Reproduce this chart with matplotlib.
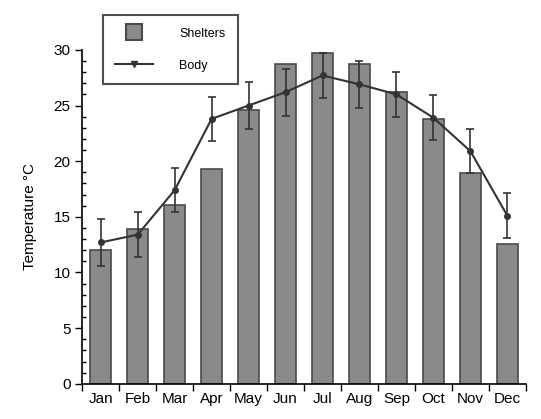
import numpy as np
import matplotlib.pyplot as plt
from matplotlib.lines import Line2D
from matplotlib.ticker import MultipleLocator

plt.rcParams['font.family'] = ['Liberation Sans', 'DejaVu Sans']

# 数据
months = ['Jan', 'Feb', 'Mar', 'Apr', 'May', 'Jun',
          'Jul', 'Aug', 'Sep', 'Oct', 'Nov', 'Dec']
shelters = [12.0, 13.9, 16.1, 19.3, 24.6, 28.7, 29.7, 28.7, 26.2, 23.8, 18.9, 12.6]
body = [12.7, 13.4, 17.4, 23.8, 25.0, 26.2, 27.7, 26.9, 26.0, 23.9, 20.9, 15.1]
body_err = [2.1, 2.0, 2.0, 2.0, 2.1, 2.1, 2.0, 2.1, 2.0, 2.0, 2.0, 2.0]

fig = plt.figure(figsize=(5.41, 4.19), dpi=100)
ax = fig.add_axes([0.152, 0.084, 0.820, 0.797])

x = np.arange(len(months))
ax.bar(x, shelters, width=0.56, color='#8a8a8a', edgecolor='#4a4a4a',
       linewidth=1.2, zorder=2)
ax.errorbar(x, body, yerr=body_err, color='#333333', lw=1.5,
            marker='o', ms=4, capsize=3, elinewidth=1.2, capthick=1.2,
            zorder=3)

ax.set_xlim(-0.5, 11.5)
ax.set_ylim(0, 30)

# 坐标轴样式
for s in ['top', 'right']:
    ax.spines[s].set_visible(False)
for s in ['left', 'bottom']:
    ax.spines[s].set_linewidth(1.2)

ax.set_xticks(x)
ax.set_xticklabels(months, fontsize=11)
ax.tick_params(axis='x', which='major', length=0, pad=6)
ax.set_xticks(np.arange(-0.5, 12, 1), minor=True)
ax.tick_params(axis='x', which='minor', length=5, width=1, direction='out')

ax.yaxis.set_major_locator(MultipleLocator(5))
ax.yaxis.set_minor_locator(MultipleLocator(1))
ax.tick_params(axis='y', which='major', length=5, width=1, labelsize=11)
ax.tick_params(axis='y', which='minor', length=3, width=1, direction='in')

ax.set_ylabel('Temperature °C', fontsize=11, labelpad=12)

# 图例
handles = [
    Line2D([], [], ls='none', marker='s', ms=11, mfc='#8a8a8a',
           mec='#4a4a4a', mew=1.5),
    Line2D([], [], color='#333333', lw=1.5, marker='v', ms=4),
]
leg = fig.legend(handles, ['Shelters', 'Body'], loc='upper left',
                 bbox_to_anchor=(0.19, 0.964),
                 fontsize=9, frameon=True, fancybox=False, edgecolor='#222222',
                 borderpad=1.0, labelspacing=1.6, handlelength=3.0,
                 handletextpad=2.1, borderaxespad=0)
leg.get_frame().set_linewidth(1.5)

plt.savefig('out.png', dpi=100)
